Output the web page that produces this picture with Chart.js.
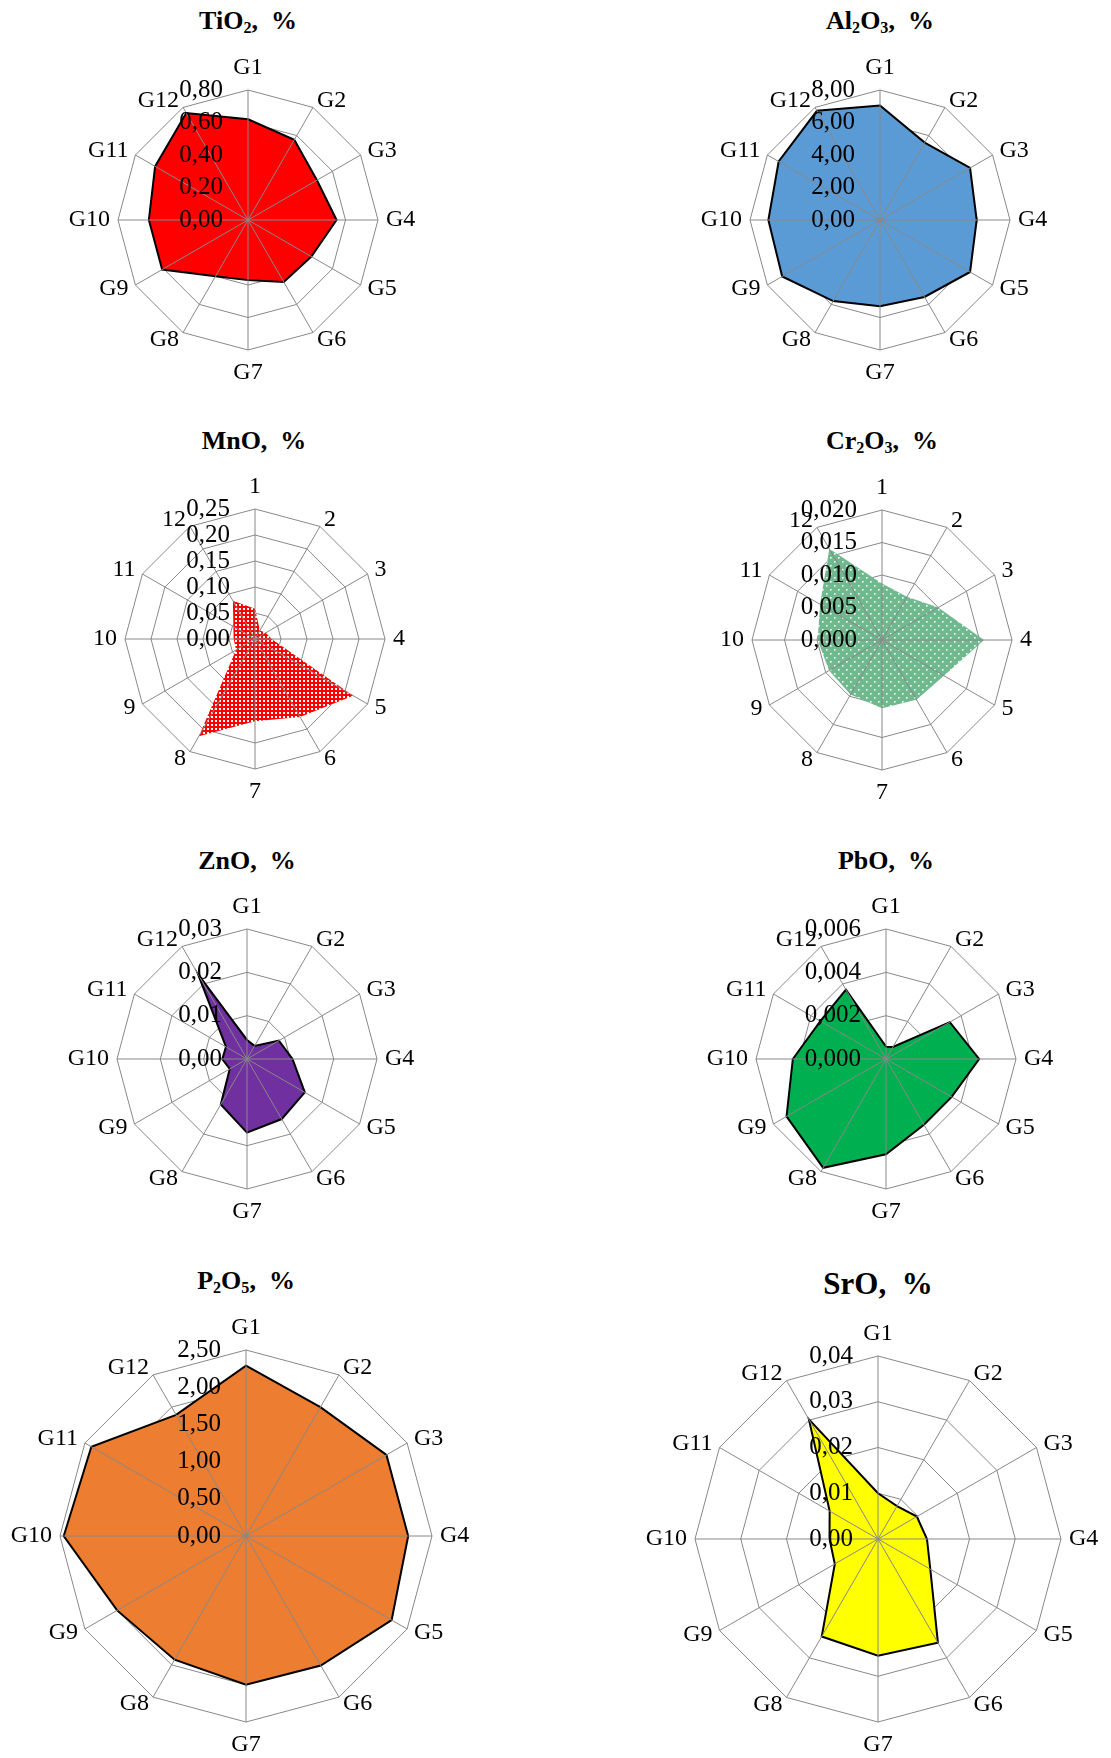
<!DOCTYPE html>
<html>
<head>
<meta charset="utf-8">
<script src="https://cdn.jsdelivr.net/npm/chart.js@4.4.0/dist/chart.umd.min.js"></script>
<style>
body{margin:0;background:#fff;}
#page{position:relative;width:1111px;height:1758px;overflow:hidden;background:#fff;font-family:'Liberation Serif',serif;}
.ttl{position:absolute;font-weight:bold;white-space:nowrap;transform:translate(-50%,-50%);line-height:1;color:#000;}
.ttl sub{font-size:62%;vertical-align:-0.25em;line-height:0;}
canvas{position:absolute;}
</style>
</head>
<body>
<div id="page"></div>
<script>
const groups=['G1','G2','G3','G4','G5','G6','G7','G8','G9','G10','G11','G12'];
const nums=['1','2','3','4','5','6','7','8','9','10','11','12'];

const tio2=[0.62,0.57,0.49,0.545,0.45,0.44,0.37,0.40,0.61,0.61,0.66,0.76];
const al2o3=[7.05,5.5,6.4,5.95,6.4,5.47,5.3,5.76,6.95,6.87,7.2,7.76];
const mno=[0.058,0.019,0.024,0.032,0.218,0.173,0.158,0.216,0.042,0.041,0.048,0.085];
const cr2o3=[0.0087,0.0077,0.010,0.0157,0.011,0.0106,0.0105,0.0097,0.0094,0.0099,0.011,0.0162];
const zno=[0.0044,0.0035,0.0085,0.0105,0.0154,0.016,0.017,0.0121,0.0046,0.0057,0.0056,0.0226];
const pbo=[0.00057,0.00064,0.0034,0.0043,0.0035,0.0035,0.0044,0.0058,0.0053,0.0043,0.0035,0.0037];
const p2o5=[2.29,2.0,2.18,2.18,2.26,2.01,2.0,1.92,2.0,2.45,2.4,1.88];
const sro=[0.0100,0.0083,0.0098,0.0107,0.0132,0.0262,0.0255,0.0246,0.0109,0.0106,0.0122,0.0302];

// axis max, step, decimals of the tick labels
const tio2Axis=[0.8,0.2,2];
const al2o3Axis=[8,2,2];
const mnoAxis=[0.25,0.05,2];
const cr2o3Axis=[0.02,0.005,3];
const znoAxis=[0.03,0.01,2];
const pboAxis=[0.006,0.002,3];
const p2o5Axis=[2.5,0.5,2];
const sroAxis=[0.04,0.01,2];

const page=document.getElementById('page');
const FONT='Liberation Serif';
const LBL=24, TCK=25, PAD=8;

function dots(bg,size,pts,d){
  const c=document.createElement('canvas');
  c.width=c.height=size;
  const x=c.getContext('2d');
  x.fillStyle=bg;x.fillRect(0,0,size,size);
  x.fillStyle='#fff';
  pts.forEach(p=>x.fillRect(p[0],p[1],d,d));
  return x.createPattern(c,'repeat');
}

// spokes over the fill, tick labels and category labels placed like Excel does
const overlay={
  id:'overlay',
  afterDatasetsDraw(chart,args,opts){
    const s=chart.scales.r, ctx=chart.ctx, n=chart.data.labels.length;
    ctx.save();
    ctx.strokeStyle='#888';ctx.lineWidth=1;
    for(let i=0;i<n;i++){
      const p=s.getPointPositionForValue(i,s.max);
      ctx.beginPath();ctx.moveTo(s.xCenter,s.yCenter);ctx.lineTo(p.x,p.y);ctx.stroke();
    }
    ctx.fillStyle='#000';
    ctx.textBaseline='middle';
    ctx.font=LBL+'px "'+FONT+'"';
    const lh=LBL*1.2;
    for(let i=0;i<n;i++){
      const p=s.getPointPosition(i,s.drawingArea+PAD);
      const a=Math.round(s.getIndexAngle(i)*180/Math.PI)%360;
      let y=p.y;
      if(a===0) y-=lh/2;
      else if(a===180) y+=lh/2;
      ctx.textAlign=(a===0||a===180)?'center':(a<180?'left':'right');
      ctx.fillText(chart.data.labels[i],p.x,y);
    }
    ctx.font=TCK+'px "'+FONT+'"';
    ctx.textAlign='right';
    s.ticks.forEach(t=>{
      const y=s.yCenter-s.getDistanceFromCenterForValue(t.value);
      ctx.fillText(t.value.toFixed(opts.dec).replace('.',','),s.xCenter-25,y);
    });
    ctx.restore();
  }
};

function title(html,cx,cy,size){
  const d=document.createElement('div');
  d.className='ttl';
  d.style.left=cx+'px';d.style.top=cy+'px';d.style.fontSize=size+'px';
  d.innerHTML=html;
  page.appendChild(d);
}

function radar(o){
  const P=50,Q=75,D=Math.round(2*o.r);
  const cv=document.createElement('canvas');
  cv.width=D+2*Q;cv.height=D+2*P;
  page.appendChild(cv);
  const chart=new Chart(cv,{
    type:'radar',
    data:{
      labels:o.labels,
      datasets:[{
        data:o.data,
        backgroundColor:o.fill,
        borderColor:o.line||'rgba(0,0,0,0)',
        borderWidth:o.line?2:0,
        pointRadius:0,pointHoverRadius:0,
        fill:true
      }]
    },
    options:{
      responsive:false,animation:false,events:[],
      layout:{padding:{top:P,bottom:P,left:Q,right:Q}},
      plugins:{legend:{display:false},tooltip:{enabled:false},overlay:{dec:o.axis[2]}},
      scales:{
        r:{
          min:0,max:o.axis[0],
          ticks:{display:false,stepSize:o.axis[1]},
          grid:{color:'#888',lineWidth:1,circular:false},
          angleLines:{display:false},
          pointLabels:{display:false}
        }
      }
    },
    plugins:[overlay]
  });
  const s=chart.scales.r;
  cv.style.left=(o.cx-s.xCenter)+'px';
  cv.style.top=(o.cy-s.yCenter)+'px';
}

const redDots=dots('#ff0000',4,[[1,1]],2);
const greenDots=dots('#70b98f',8,[[1,1],[5,5]],1.6);

radar({cx:247.5,cy:219.7,r:130,labels:groups,data:tio2,axis:tio2Axis,fill:'#ff0000',line:'#000'});
radar({cx:880,cy:219.7,r:130,labels:groups,data:al2o3,axis:al2o3Axis,fill:'#5b9bd5',line:'#000'});
radar({cx:254.5,cy:639.3,r:130,labels:nums,data:mno,axis:mnoAxis,fill:redDots});
radar({cx:882,cy:639.5,r:130,labels:nums,data:cr2o3,axis:cr2o3Axis,fill:greenDots});
radar({cx:247,cy:1058.7,r:130,labels:groups,data:zno,axis:znoAxis,fill:'#7030a0',line:'#000'});
radar({cx:886,cy:1058.7,r:130,labels:groups,data:pbo,axis:pboAxis,fill:'#00b050',line:'#000'});
radar({cx:245.5,cy:1535.8,r:186.3,labels:groups,data:p2o5,axis:p2o5Axis,fill:'#ed7d31',line:'#000'});
radar({cx:877.7,cy:1539,r:183.3,labels:groups,data:sro,axis:sroAxis,fill:'#ffff00',line:'#000'});

title('TiO<sub>2</sub>,&nbsp; %',248,21,26);
title('Al<sub>2</sub>O<sub>3</sub>,&nbsp; %',880,21,26);
title('MnO,&nbsp; %',254,441,26);
title('Cr<sub>2</sub>O<sub>3</sub>,&nbsp; %',882,441,26);
title('ZnO,&nbsp; %',247,861,26);
title('PbO,&nbsp; %',886,861,26);
title('P<sub>2</sub>O<sub>5</sub>,&nbsp; %',246,1281,26);
title('SrO,&nbsp; %',878,1282.5,31);
</script>
</body>
</html>
